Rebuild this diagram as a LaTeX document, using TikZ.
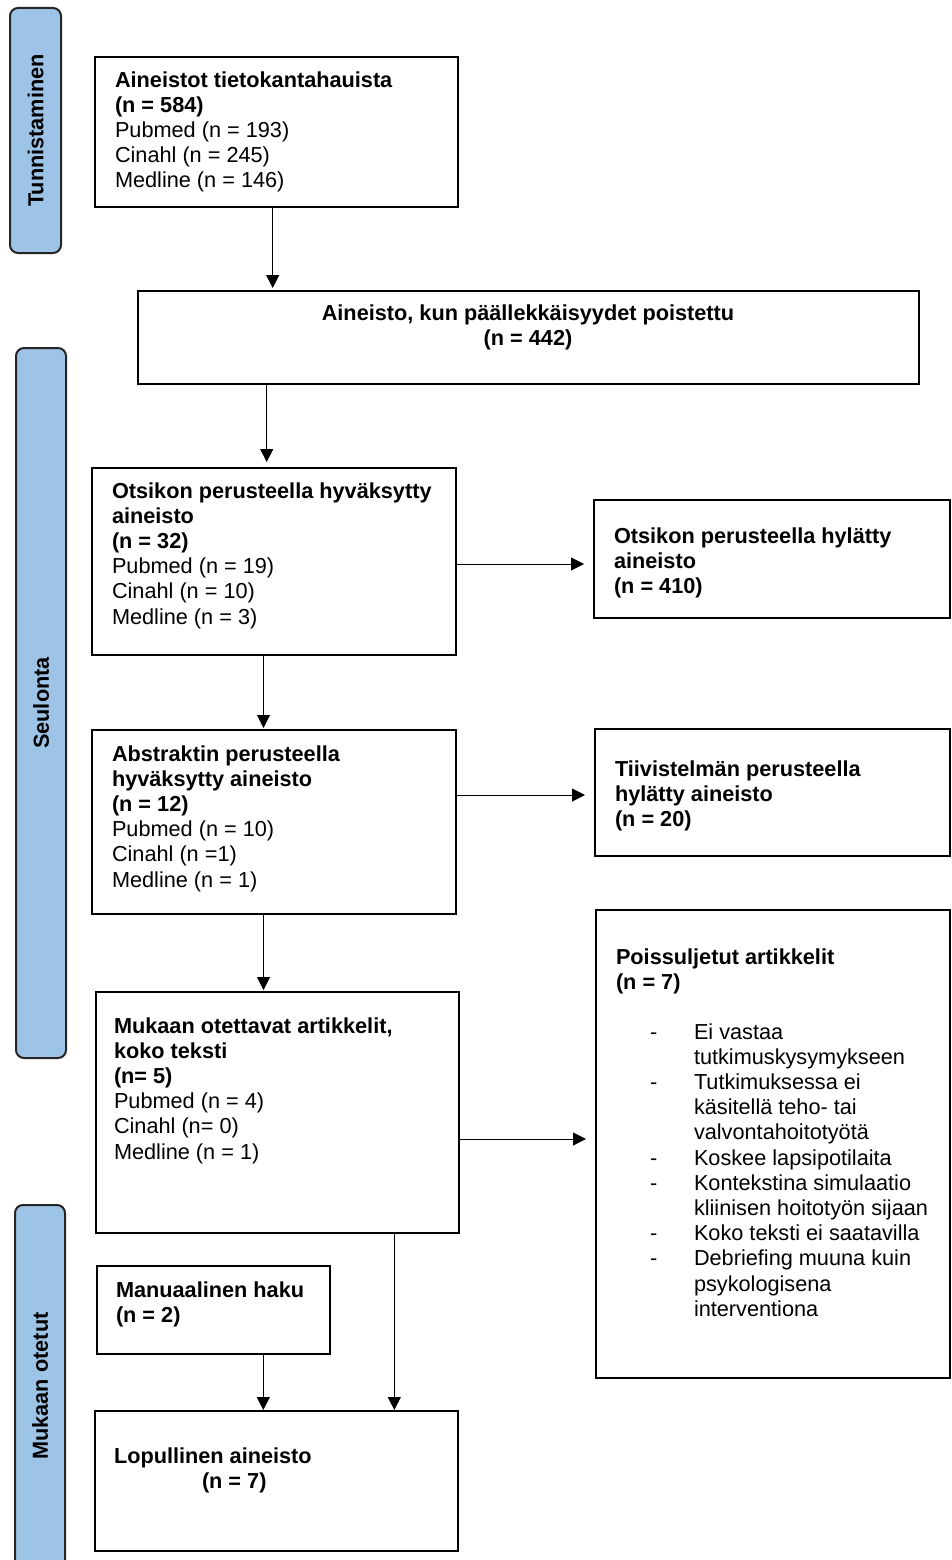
\documentclass[tikz,border=0pt]{standalone}
\usepackage{fontspec}
\setmainfont{Liberation Sans}
\usetikzlibrary{arrows.meta}
\definecolor{barblue}{HTML}{9DC3E6}
\newcommand\fsz{\fontsize{21.7pt}{25.2pt}\selectfont}
\begin{document}
\begin{tikzpicture}[x=1pt,y=-1pt,
  box/.style={draw=black, line width=2pt, inner sep=0pt, outer sep=0pt, anchor=north west, fill=white},
  bar/.style={draw=black!85, fill=barblue, line width=2pt, rounded corners=8pt, inner sep=0pt, outer sep=0pt, anchor=north west},
  bartxt/.style={rotate=90, font=\fsz\bfseries, inner sep=0pt},
  txt/.style={inner sep=0pt, outer sep=0pt, anchor=north west, align=left, font=\fsz},
  one/.style={inner sep=0pt, outer sep=0pt, anchor=base west, font=\fsz},
  arr/.style={line width=1pt, -{Triangle[length=13pt,width=13pt]}}]
\useasboundingbox (0,0) rectangle (951,1560);
\fill[white] (0,0) rectangle (951,1560);

% side bars
\node[bar, minimum width=51pt, minimum height=245pt] (bar1) at (10,8) {};
\node[bartxt] (bar1t) at (bar1.center) {Tunnistaminen};
\node[bar, minimum width=50pt, minimum height=710pt] (bar2) at (16,348) {};
\node[bartxt] (bar2t) at (bar2.center) {Seulonta};
\node[bar, minimum width=50pt, minimum height=362pt] (bar3) at (15,1205) {};
\node[bartxt] (bar3t) at (bar3.center) {Mukaan otetut};

% boxes
\node[box, minimum width=363pt, minimum height=150pt] (b1) at (95,57) {};
\node[box, minimum width=781pt, minimum height=93pt] (b2) at (138,291) {};
\node[box, minimum width=364pt, minimum height=187pt] (b3) at (92,468) {};
\node[box, minimum width=356pt, minimum height=118pt] (b4) at (594,500) {};
\node[box, minimum width=364pt, minimum height=184pt] (b5) at (92,730) {};
\node[box, minimum width=355pt, minimum height=127pt] (b6) at (595,729) {};
\node[box, minimum width=363pt, minimum height=241pt] (b7) at (96,992) {};
\node[box, minimum width=354pt, minimum height=468pt] (b8) at (596,910) {};
\node[box, minimum width=233pt, minimum height=88pt] (b9) at (97,1266) {};
\node[box, minimum width=363pt, minimum height=140pt] (b10) at (95,1411) {};

% texts
\node[txt] (t1) at (115,69.4) {\strut\textbf{Aineistot tietokantahauista}\\\textbf{(n = 584)}\\Pubmed (n = 193)\\Cinahl (n = 245)\\Medline (n = 146)};
\node[txt, anchor=north, align=center] (t2) at (528,302.4) {\strut\textbf{Aineisto, kun päällekkäisyydet poistettu}\\\textbf{(n = 442)}};
\node[txt] (t3) at (112,480.4) {\strut\textbf{Otsikon perusteella hyväksytty}\\\textbf{aineisto}\\\textbf{(n = 32)}\\Pubmed (n = 19)\\Cinahl (n = 10)\\Medline (n = 3)};
\node[txt] (t4) at (614,525.4) {\strut\textbf{Otsikon perusteella hylätty}\\\textbf{aineisto}\\\textbf{(n = 410)}};
\node[txt] (t5) at (112,743.4) {\strut\textbf{Abstraktin perusteella}\\\textbf{hyväksytty aineisto}\\\textbf{(n = 12)}\\Pubmed (n = 10)\\Cinahl (n =1)\\Medline (n = 1)};
\node[txt] (t6) at (615,758.4) {\strut\textbf{Tiivistelmän perusteella}\\\textbf{hylätty aineisto}\\\textbf{(n = 20)}};
\node[txt] (t7) at (114,1015.4) {\strut\textbf{Mukaan otettavat artikkelit,}\\\textbf{koko teksti}\\\textbf{(n= 5)}\\Pubmed (n = 4)\\Cinahl (n= 0)\\Medline (n = 1)};
\node[txt] (t8) at (616,946.4) {\strut\textbf{Poissuljetut artikkelit}\\\textbf{(n = 7)}};
\node[txt] (t8list) at (694,1021.4) {\strut Ei vastaa\\tutkimuskysymykseen\\Tutkimuksessa ei\\käsitellä teho- tai\\valvontahoitotyötä\\Koskee lapsipotilaita\\Kontekstina simulaatio\\kliinisen hoitotyön sijaan\\Koko teksti ei saatavilla\\Debriefing muuna kuin\\psykologisena\\interventiona};
\node[one] (d1) at (650,1039) {-};
\node[one] (d2) at (650,1089.4) {-};
\node[one] (d3) at (650,1165) {-};
\node[one] (d4) at (650,1190.2) {-};
\node[one] (d5) at (650,1240.6) {-};
\node[one] (d6) at (650,1265.8) {-};
\node[txt] (t9) at (116,1279.4) {\strut\textbf{Manuaalinen haku}\\\textbf{(n = 2)}};
\node[one] (t10a) at (114,1463) {\textbf{Lopullinen aineisto}};
\node[one] (t10b) at (202,1488) {\textbf{(n = 7)}};

% arrow columns / rows
\coordinate (c1) at (272.7,0);
\coordinate (c2) at (266.7,0);
\coordinate (c3) at (263.5,0);
\coordinate (c4) at (263.5,0);
\coordinate (c5) at (263.3,0);
\coordinate (c6) at (394.3,0);
\coordinate (r1) at (0,564);
\coordinate (r2) at (0,795);
\coordinate (r3) at (0,1139);

\draw[arr, shorten >=3pt] (b1.south -| c1) -- (b2.north -| c1);
\draw[arr, shorten >=6pt] (b2.south -| c2) -- (b3.north -| c2);
\draw[arr, shorten >=2pt] (b3.south -| c3) -- (b5.north -| c3);
\draw[arr, shorten >=2pt] (b5.south -| c4) -- (b7.north -| c4);
\draw[arr, shorten >=1pt] (b9.south -| c5) -- (b10.north -| c5);
\draw[arr, shorten >=1pt] (b7.south -| c6) -- (b10.north -| c6);
\draw[arr, shorten >=10pt] (b3.east |- r1) -- (b4.west |- r1);
\draw[arr, shorten >=10pt] (b5.east |- r2) -- (b6.west |- r2);
\draw[arr, shorten >=10pt] (b7.east |- r3) -- (b8.west |- r3);
\end{tikzpicture}
\end{document}
